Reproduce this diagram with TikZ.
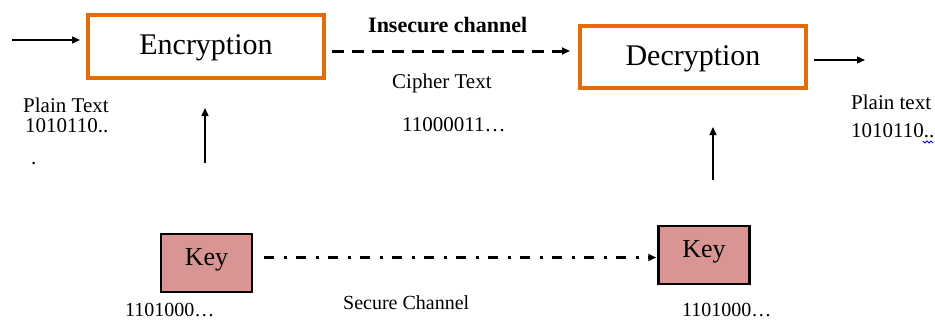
\documentclass[tikz,border=0pt]{standalone}
\usepackage{fontspec}
\setmainfont{Liberation Serif}
\usetikzlibrary{arrows.meta}
\definecolor{boxorange}{HTML}{E36C09}
\definecolor{keyfill}{HTML}{D99594}
\tikzset{
  x=1pt, y=-1pt,
  cipherbox/.style={draw=boxorange, line width=4pt, fill=white, minimum width=#1, minimum height=63pt, inner sep=0pt, text depth=3pt, font=\fontsize{30}{34}\selectfont},
  keybox/.style={draw=black, line width=2.5pt, fill=keyfill, minimum width=91pt, minimum height=58pt, inner sep=0pt, text depth=12pt, font=\fontsize{26}{30}\selectfont},
  lbl/.style={inner sep=0pt, anchor=base west, font=\fontsize{21}{25}\selectfont},
  tip/.style={-{Triangle[length=8pt,width=7pt]}},
  flow/.style={tip, line width=1.3pt},
  insecure/.style={tip, line width=3pt, dash pattern=on 12pt off 8pt},
  secure/.style={tip, line width=2.8pt, dash pattern=on 10pt off 9.5pt on 3pt off 9.5pt},
}
\begin{document}
\begin{tikzpicture}
\useasboundingbox (0,0) rectangle (935,322);

% main blocks
\node[cipherbox=236pt] (enc) at (206,46.5) {Encryption};
\node[cipherbox=226pt, minimum height=62pt] (dec) at (693,57) {Decryption};
\node[keybox] (kl) at (206.5,263) {Key};
\node[keybox] (kr) at (704,255) {Key};

% free ends of the open arrows
\coordinate (pin) at (12,40);
\coordinate (pout) at (865,60);
\coordinate (kup) at (205,163);
\coordinate (dup) at (713,180);

% plain text in and out
\draw[flow, shorten >=6pt] (pin) -- (pin -| enc.west);
\draw[flow, shorten <=6pt] ([yshift=-3pt]dec.east) -- (pout);

% insecure channel
\draw[insecure, shorten <=6pt, shorten >=8pt] ([yshift=-4.5pt]enc.east) -- ([yshift=6pt]dec.west);

% keys feed the two blocks
\draw[flow, shorten >=28pt] (kup) -- (kup |- enc.south);
\draw[flow, shorten >=37pt] (dup) -- (dup |- dec.south);

% secure channel between the keys
\draw[secure, shorten <=11pt, shorten >=1pt] ([yshift=5.5pt]kl.east) -- ([yshift=-2.5pt]kr.west);

% labels
\node[lbl, font=\bfseries\fontsize{22}{26}\selectfont] (lins) at (368,32) {Insecure channel};
\node[lbl] (lcip) at (392,88) {Cipher Text};
\node[lbl] (lcbits) at (402,131) {11000011…};
\node[lbl] (lpin) at (23,112) {Plain Text};
\node[lbl] (lpbits) at (25,132) {1010110..};
\node[lbl] (ldot) at (31,164) {.};
\node[lbl] (lpout) at (851,109) {Plain text};
\node[lbl] (lobits) at (851,137) {1010110..};
\node[lbl, font=\fontsize{20}{24}\selectfont] (lsec) at (343,309) {Secure Channel};
\node[lbl, font=\fontsize{20}{24}\selectfont] (lkl) at (125,316) {1101000…};
\node[lbl, font=\fontsize{20}{24}\selectfont] (lkr) at (682,316) {1101000…};

% wavy underline under the trailing dots
\draw[blue, line width=0.8pt] (923,141) -- (925,143) -- (927,141) -- (929,143) -- (931,141) -- (933,143);
\end{tikzpicture}
\end{document}
